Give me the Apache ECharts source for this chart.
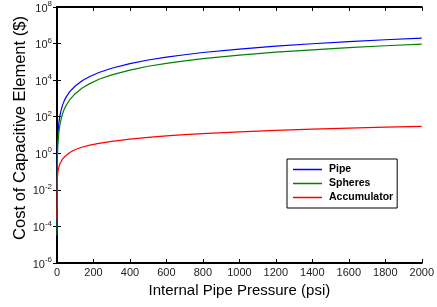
<!DOCTYPE html>
<html>
<head>
<meta charset="utf-8">
<script src="https://cdn.jsdelivr.net/npm/echarts@6/dist/echarts.min.js"></script>
<style>
  html, body { margin: 0; padding: 0; background: #fff; }
  #chart { width: 437px; height: 307px; }
</style>
</head>
<body>
<div id="chart"></div>
<script>
// values (log y axis)
const pressure = [0.01, 2, 5, 10, 15, 20, 30, 40, 50, 70, 100, 140, 180, 230, 300, 400, 500, 600, 700, 800, 1000, 1200, 1400, 1600, 1800, 2000];
const pipeCost = [6.3e-5, 2.0, 11, 45, 100, 178, 417, 759, 1175, 2344, 4786, 9550, 1.58e4, 2.63e4, 4.47e4, 7.94e4,
    1.26e5, 1.82e5, 2.45e5, 3.24e5, 5.0e5, 7.2e5, 9.8e5, 1.29e6, 1.62e6, 2.0e6];
const spheresCost = [3.2e-5, 0.6, 3.4, 14, 32, 59, 141, 263, 417, 851, 1820, 3800, 6460, 1.12e4, 1.95e4, 3.55e4,
    5.75e4, 8.3e4, 1.12e5, 1.51e5, 2.34e5, 3.39e5, 4.57e5, 6.03e5, 7.6e5, 9.3e5];
const accumulatorCost = [2.5e-4, 0.045, 0.1, 0.17, 0.25, 0.32, 0.48, 0.62, 0.78, 1.1, 1.6, 2.2, 2.8, 3.5, 4.5, 6.0,
    7.5, 9.0, 10.5, 12, 15, 18, 21, 24, 27, 30];

const seriesNames = ['Pipe', 'Spheres', 'Accumulator'];
const seriesColors = ['#0000ff', '#008000', '#ff0000'];
const seriesValues = [pipeCost, spheresCost, accumulatorCost];

const font = 'Liberation Sans, Arial, sans-serif';

const chart = echarts.init(document.getElementById('chart'), null, { renderer: 'canvas' });

const tick = { show: true, inside: true, length: 4, lineStyle: { color: '#000', width: 1 } };
const line = { show: true, lineStyle: { color: '#000', width: 2 } };

const supLabel = v => {
    const e = Math.round(Math.log10(v));
    return '{b|10}{s|' + e + '}';
};

chart.setOption({
    animation: false,
    backgroundColor: '#fff',
    grid: { left: 57, right: 9, top: 6, bottom: 44, containLabel: false },
    legend: {
        orient: 'vertical',
        left: 287,
        top: 159,
        data: seriesNames.map(n => ({ name: n, icon: 'rect' })),
        itemWidth: 29,
        itemHeight: 1.5,
        itemGap: 3,
        padding: [5, 4, 5, 6],
        backgroundColor: '#fff',
        borderColor: '#000',
        borderWidth: 1,
        borderRadius: 0,
        textStyle: { fontFamily: font, fontSize: 10.5, fontWeight: 'bold', color: '#000', padding: [0, 0, 0, 2] }
    },
    xAxis: [{
        type: 'value',
        min: 0, max: 2000, interval: 200,
        name: 'Internal Pipe Pressure (psi)',
        nameLocation: 'middle',
        nameGap: 17,
        nameTextStyle: { fontFamily: font, fontSize: 15, color: '#000' },
        axisLine: line,
        axisTick: tick,
        axisLabel: { fontFamily: font, fontSize: 11, color: '#222', margin: 4, formatter: v => String(v) },
        splitLine: { show: false }
    }, {
        type: 'value',
        position: 'top',
        min: 0, max: 2000, interval: 200,
        axisLine: line,
        axisTick: tick,
        axisLabel: { show: false },
        splitLine: { show: false }
    }],
    yAxis: [{
        type: 'log',
        logBase: 10,
        min: 1e-6, max: 1e8, interval: 2,
        axisLine: line,
        axisTick: tick,
        axisLabel: {
            margin: 5,
            formatter: supLabel,
            rich: {
                b: { fontFamily: font, fontSize: 11, color: '#222', verticalAlign: 'bottom', lineHeight: 14 },
                s: { fontFamily: font, fontSize: 8, color: '#222', verticalAlign: 'top', lineHeight: 14, padding: [0, 0, 6, 0] }
            }
        },
        splitLine: { show: false }
    }, {
        type: 'log',
        logBase: 10,
        position: 'right',
        min: 1e-6, max: 1e8, interval: 2,
        axisLine: line,
        axisTick: tick,
        axisLabel: { show: false },
        splitLine: { show: false }
    }],
    graphic: [{
        type: 'text',
        x: 20,
        y: 128,
        rotation: Math.PI / 2,
        style: {
            text: 'Cost of Capacitive Element ($)',
            fontFamily: font,
            fontSize: 16.5,
            fill: '#000',
            align: 'center',
            verticalAlign: 'middle'
        }
    }],
    series: seriesNames.map((name, i) => ({
        name: name,
        type: 'line',
        data: pressure.map((p, j) => [p, seriesValues[i][j]]),
        symbol: 'none',
        color: seriesColors[i],
        lineStyle: { color: seriesColors[i], width: 1.2 },
        z: 2
    }))
});
</script>
</body>
</html>
